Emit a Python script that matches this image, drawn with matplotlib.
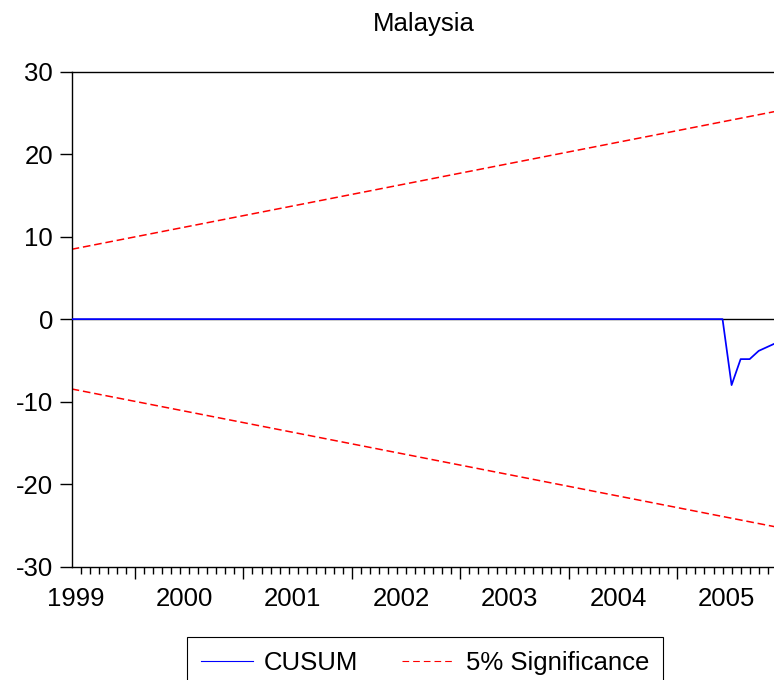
import numpy as np
import matplotlib
matplotlib.use("Agg")
import matplotlib.pyplot as plt
from matplotlib.lines import Line2D

plt.rcParams["font.family"] = ["Liberation Sans", "DejaVu Sans"]

# Monthly CUSUM statistic, 1999M01 - 2005M07 (one row per year)
cusum = [
    0.0, 0.0, 0.0, 0.0, 0.0, 0.0, 0.0, 0.0, 0.0, 0.0, 0.0, 0.0,   # 1999
    0.0, 0.0, 0.0, 0.0, 0.0, 0.0, 0.0, 0.0, 0.0, 0.0, 0.0, 0.0,   # 2000
    0.0, 0.0, 0.0, 0.0, 0.0, 0.0, 0.0, 0.0, 0.0, 0.0, 0.0, 0.0,   # 2001
    0.0, 0.0, 0.0, 0.0, 0.0, 0.0, 0.0, 0.0, 0.0, 0.0, 0.0, 0.0,   # 2002
    0.0, 0.0, 0.0, 0.0, 0.0, 0.0, 0.0, 0.0, 0.0, 0.0, 0.0, 0.0,   # 2003
    0.0, 0.0, 0.0, 0.0, 0.0, 0.0, 0.0, 0.0, 0.0, 0.0, 0.0, 0.0,   # 2004
    0.0, -8.0, -4.85, -4.85, -3.85, -3.35, -2.85,                 # 2005
]

# 5% significance bounds at the first and last observation
upper_bound = [8.47, 25.22]
lower_bound = [-8.47, -25.22]

year_labels = ["1999", "2000", "2001", "2002", "2003", "2004", "2005"]
y_ticks = [-30, -20, -10, 0, 10, 20, 30]

FS = 18.5

months = np.arange(len(cusum))
n_last = months[-1]
bound_x = [months[0], n_last]

fig = plt.figure(figsize=(7.74, 6.80), dpi=100)
ax = fig.add_axes([0.0926, 0.1669, 0.911, 0.7276])

ax.axhline(0, color="black", lw=1.0, zorder=1)
ax.plot(bound_x, upper_bound, color="#ff0000", lw=1.1, ls=(0, (5, 2.5)), zorder=2)
ax.plot(bound_x, lower_bound, color="#ff0000", lw=1.1, ls=(0, (5, 2.5)), zorder=2)
ax.plot(months, cusum, color="#0000ff", lw=1.25, zorder=3)

for side in ("left", "top", "bottom", "right"):
    ax.spines[side].set_linewidth(1.0)

# y axis
ax.set_yticks(y_ticks)
ax.set_yticklabels([str(v) for v in y_ticks])
ax.tick_params(axis="y", direction="out", length=8.4, width=1.0, pad=5.0,
               labelsize=FS)

# x axis: month ticks with long marks each mid-year, year labels below
long_ticks = [m for m in range(7, n_last + 1, 12)]
month_ticks = [m for m in range(1, n_last + 1) if m not in long_ticks]
ax.set_xticks(long_ticks)
ax.set_xticklabels([])
ax.set_xticks(month_ticks, minor=True)
ax.tick_params(axis="x", which="major", direction="out", length=8.9, width=1.0)
ax.tick_params(axis="x", which="minor", direction="out", length=4.8, width=1.0)

ax.set_xlim(0, n_last)
ax.set_ylim(-30, 30)

year_axis = ax.secondary_xaxis("bottom")
year_axis.set_xticks([12 * j + 0.45 for j in range(len(year_labels))])
year_axis.set_xticklabels(year_labels)
year_axis.tick_params(axis="x", length=0, pad=14.5, labelsize=FS)
year_axis.spines["bottom"].set_visible(False)
ax.set_xlim(0, n_last)

ax.set_title("Malaysia", fontsize=FS, pad=29)

handles = [
    Line2D([], [], color="#0000ff", lw=0.8),
    Line2D([], [], color="#ff0000", lw=0.8, ls=(0, (6.0, 3.6))),
]
leg = fig.legend(handles, ["CUSUM", "5% Significance"], loc="upper center",
                 bbox_to_anchor=(0.549, 1 - 637.3 / 680), ncol=2,
                 fontsize=FS, frameon=True, fancybox=False, edgecolor="black",
                 framealpha=1.0, handlelength=2.05, handletextpad=0.42,
                 columnspacing=1.7, borderpad=0.55, borderaxespad=0.0)
leg.get_frame().set_linewidth(0.8)

fig.savefig("out.png", dpi=100)
